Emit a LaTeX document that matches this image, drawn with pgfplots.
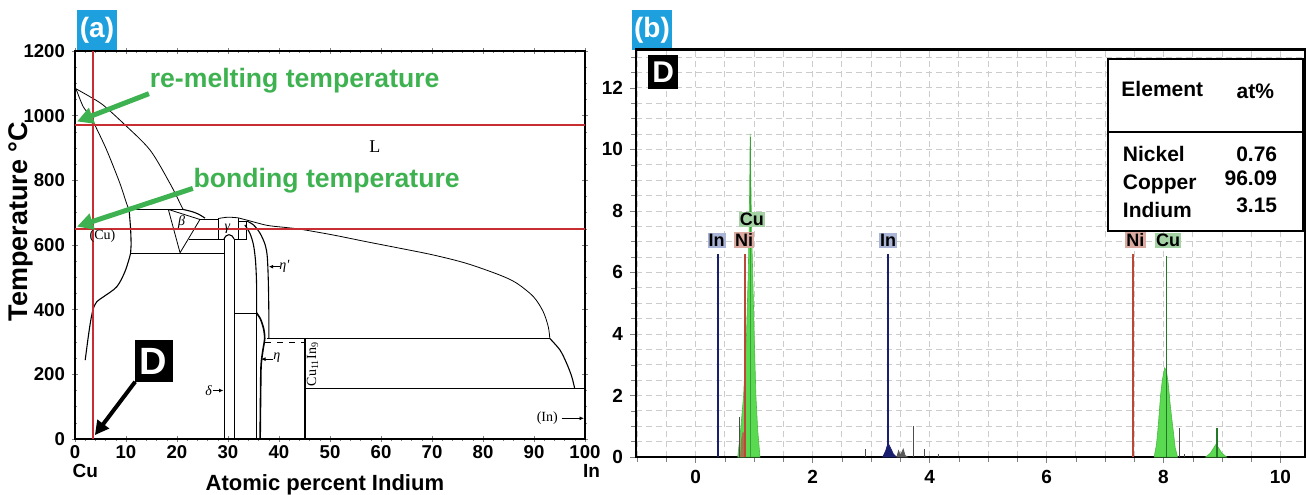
\documentclass[border=0pt]{standalone}
\usepackage{fontspec}
\setmainfont{Liberation Sans}
\newfontfamily\tnr{Liberation Serif}
\usepackage{pgfplots}
\pgfplotsset{compat=1.18}
\usetikzlibrary{arrows.meta}

\definecolor{redline}{RGB}{200,45,50}
\definecolor{grtext}{RGB}{62,178,80}
\definecolor{tagblue}{RGB}{30,160,222}
\definecolor{cufill}{RGB}{90,218,80}
\definecolor{cudark}{RGB}{35,120,40}
\definecolor{innavy}{RGB}{25,30,110}
\definecolor{nired}{RGB}{190,70,55}
\definecolor{nifill}{RGB}{165,115,75}
\definecolor{inbox}{RGB}{170,180,215}
\definecolor{nibox}{RGB}{218,170,160}
\definecolor{cubox}{RGB}{165,210,165}

\tikzset{tag/.style={fill=tagblue, text=white, font=\bfseries\fontsize{14}{14}\selectfont,
  minimum width=20pt, minimum height=20pt, inner sep=0pt},
  dbox/.style={fill=black, text=white, inner sep=0pt, anchor=north west},
  el/.style={font=\bfseries\fontsize{9}{9}\selectfont, inner sep=0.6pt},
  tb/.style={font=\bfseries\fontsize{10.5}{11}\selectfont, inner sep=0pt},
  pd/.style={font=\tnr\fontsize{7}{7}\selectfont, inner sep=0pt},
  pdg/.style={font=\tnr\itshape\fontsize{7}{7}\selectfont, inner sep=0pt},
  sm/.style={-{Latex[length=2.2pt,width=2pt]}, line width=0.4pt}}

\begin{document}
\begin{tikzpicture}
\useasboundingbox (0,0) rectangle (653pt,247pt);
\node[tag] at (48.5pt,232pt) {(a)};
\node[tag] at (326pt,232pt) {(b)};

% ---------- (a) Cu-In phase diagram ----------
\begin{axis}[
  at={(37.5pt,27.5pt)}, anchor=south west,
  scale only axis, width=255pt, height=194pt,
  xmin=0, xmax=100, ymin=0, ymax=1200,
  xtick={0,10,...,100}, ytick={0,200,...,1200},
  minor x tick num=4, minor y tick num=3,
  tick align=center, major tick length=3pt, minor tick length=1.5pt,
  tick label style={font=\bfseries\fontsize{9.3}{10}\selectfont},
  xticklabel style={inner sep=1.5pt},
  /pgf/number format/assume math mode=true,
  /pgf/number format/1000 sep={},
  xlabel={Atomic percent Indium},
  ylabel={Temperature °C},
  xlabel style={font=\bfseries\fontsize{11}{12}\selectfont,
    at={(axis description cs:0.49,-0.118)}, anchor=center},
  ylabel style={font=\bfseries\fontsize{13.5}{15}\selectfont,
    at={(axis description cs:-0.107,0.56)}, anchor=center},
  axis line style={line width=0.6pt},
  clip=false,
  cycle list={{black, solid, line width=0.55pt}},
  no markers,
]
% liquidus, Cu side
\addplot+[smooth] coordinates {(0.2,1083) (2.9,1059) (5.5,1033) (9.5,976) (14.7,894) (18.6,791) (20.6,729) (21.2,710)};
% solidus and (Cu) solvus
\addplot+[smooth] coordinates {(0.2,1083) (1.6,1028) (2.9,1002) (3.9,971) (6.2,894) (8.8,791) (10.1,729) (10.6,710)};
\addplot+[smooth] coordinates {(10.6,710) (10.9,650) (11.0,600) (10.9,574) (9.8,518) (8.2,471) (5.6,440) (4.3,425) (3.6,404) (3.1,368) (2.6,316) (2.0,244)};
% peritectic and eutectoid lines
\addplot+[sharp plot] coordinates {(10.6,710) (21.2,710)};
\addplot+[sharp plot] coordinates {(10.9,574) (29.2,574)};
% beta region
\addplot+[smooth] coordinates {(21.2,710) (23.2,702) (24.5,693) (25.5,683)};
\addplot+[sharp plot] coordinates {(18.3,710) (20.6,576) (24.5,679) (18.3,710)};
\addplot+[sharp plot] coordinates {(24.5,680) (28.1,680)};
\addplot+[sharp plot] coordinates {(22.3,618) (29.2,618)};
% gamma
\addplot+[sharp plot] coordinates {(28.1,618) (28.1,682)};
\addplot+[smooth] coordinates {(28.1,682) (30.0,686) (32.0,684)};
\addplot+[sharp plot] coordinates {(32.0,684) (32.0,618)};
\addplot+[sharp plot] coordinates {(32.0,672) (33.7,672) (33.7,616) (31.2,616)};
% delta
\addplot+[sharp plot] coordinates {(29.2,0) (29.2,618)};
\addplot+[smooth] coordinates {(29.2,618) (29.6,628) (30.2,632) (30.8,628) (31.2,618)};
\addplot+[sharp plot] coordinates {(31.2,618) (31.2,0)};
\addplot+[sharp plot] coordinates {(31.2,390) (35.6,390)};
% eta
\addplot+[smooth] coordinates {(33.3,662) (34.3,636) (35.0,600) (35.4,550) (35.6,480) (35.6,390)};
\addplot+[sharp plot] coordinates {(35.5,390) (35.5,0)};
\addplot+[smooth, line width=0.8pt] coordinates {(35.6,390) (36.4,370) (37.0,340) (37.2,310) (36.9,280) (36.5,230) (36.4,150) (36.3,0)};
% eta' boundary
\addplot+[smooth] coordinates {(33.7,674) (35.0,662) (36.3,636) (37.3,600) (37.7,564) (37.9,492) (38.0,400) (38.0,311)};
\addplot+[sharp plot] coordinates {(37.6,311) (93.1,311)};
\addplot+[sharp plot, dashed] coordinates {(37.3,298) (45.1,298)};
\addplot+[sharp plot] coordinates {(45.1,0) (45.1,311)};
\addplot+[sharp plot] coordinates {(45.1,155) (100,155)};
% liquidus, In side
\addplot+[smooth] coordinates {(32.0,684) (33.7,677) (37.6,661) (40.8,655) (44.1,649) (50.6,631) (57.2,610) (63.7,590) (70.3,569) (76.8,543) (83.3,507) (86.6,482) (89.9,440) (91.8,394) (92.8,347) (93.1,311)};
\addplot+[smooth] coordinates {(93.1,311) (95.1,275) (96.4,234) (97.4,193) (98.0,155)};
% red guide lines
\addplot+[sharp plot, redline, line width=1pt] coordinates {(3.5,0) (3.5,1200)};
\addplot+[sharp plot, redline, line width=1pt] coordinates {(0,970) (100,970)};
\addplot+[sharp plot, redline, line width=1pt] coordinates {(0,650) (100,650)};
% phase labels
\node[font=\tnr\fontsize{9}{9}\selectfont] at (axis cs:58.8,903) {L};
\node[pd] at (axis cs:5.4,626) {(Cu)};
\node[pdg] at (axis cs:20.9,672) {β};
\node[pdg] at (axis cs:29.9,650) {γ};
\node[pdg] at (axis cs:26.2,150) {δ};
\draw[sm] (axis cs:27.0,150) -- (axis cs:29.1,150);
\node[pdg] at (axis cs:39.6,250) {η};
\draw[sm] (axis cs:38.9,247) -- (axis cs:36.5,247);
\node[pdg, anchor=west] at (axis cs:40.0,535) {η'};
\draw[sm] (axis cs:40.1,533) -- (axis cs:38.0,533);
\node[pd, rotate=90] at (axis cs:46.6,232) {Cu\textsubscript{11}In\textsubscript{9}};
\node[pd] at (axis cs:92.6,64) {(In)};
\draw[sm] (axis cs:95.4,64) -- (axis cs:99.8,64);
% annotations
\draw[grtext, line width=2.5pt, -{Triangle[length=8pt,width=8pt]}] (axis cs:14.5,1068) -- (axis cs:0.4,982);
\draw[grtext, line width=2.5pt, -{Triangle[length=8pt,width=8pt]}] (axis cs:23.1,775) -- (axis cs:0.4,657);
\node[grtext, anchor=west, font=\bfseries\fontsize{13.3}{15}\selectfont, inner sep=0pt] at (axis cs:14.6,1108) {re-melting temperature};
\node[grtext, anchor=west, font=\bfseries\fontsize{13.3}{15}\selectfont, inner sep=0pt] at (axis cs:23.2,800) {bonding temperature};
\node[dbox, minimum width=19pt, minimum height=21pt, font=\bfseries\fontsize{19}{19}\selectfont] at (axis cs:11.6,306) {D};
\draw[black, line width=2pt, -{Triangle[length=7pt,width=7pt]}] (axis cs:11.8,177) -- (axis cs:3.9,12);
\node[font=\bfseries\fontsize{9.5}{10}\selectfont, inner sep=0pt] at (axis cs:2.0,0) [yshift=-15.8pt] {Cu};
\node[font=\bfseries\fontsize{9.5}{10}\selectfont, inner sep=0pt] at (axis cs:101.3,0) [yshift=-15.8pt] {In};
\end{axis}

% ---------- (b) EDS spectrum ----------
\begin{axis}[
  at={(318pt,18.5pt)}, anchor=south west,
  scale only axis, width=334.5pt, height=203.8pt,
  xmin=-1.02, xmax=10.42, ymin=0, ymax=13.25,
  xtick={0,2,...,10}, ytick={0,2,...,12},
  minor xtick={-1,-0.5,...,10.5}, minor ytick={0.5,1,...,13},
  grid=both,
  major grid style={densely dashed, gray!40, line width=0.4pt},
  minor grid style={densely dashed, gray!40, line width=0.4pt},
  tick pos=left, tick align=outside, major tick length=3pt, minor tick length=2.5pt,
  tick label style={font=\bfseries\fontsize{9.5}{10}\selectfont},
  /pgf/number format/assume math mode=true,
  axis line style={line width=1.2pt},
  clip=false,
  no markers,
]
\addplot[fill=cufill, draw=cufill!85!black, line width=0.3pt] coordinates {(0.72,0) (0.77,0.9) (0.82,2) (0.87,4) (0.9,6) (0.915,7.5) (0.925,9) (0.932,10.5) (0.94,9.5) (0.955,7.5) (0.975,6) (1.0,4) (1.03,2) (1.06,0.9) (1.10,0)} \closedcycle;
\addplot[fill=nifill, draw=none] coordinates {(0.76,0) (0.78,0.6) (0.80,0.8) (0.83,0.8) (0.85,0.4) (0.86,0)} \closedcycle;
\addplot[fill=cufill, draw=cufill!85!black, line width=0.3pt] coordinates {(7.84,0) (7.88,0.4) (7.91,1) (7.95,2) (7.98,2.5) (8.02,2.9) (8.05,2.8) (8.08,2.4) (8.12,1.6) (8.17,0.8) (8.2,0.3) (8.24,0)} \closedcycle;
\addplot[fill=cufill, draw=cufill!85!black, line width=0.3pt] coordinates {(8.72,0) (8.8,0.12) (8.86,0.3) (8.9,0.42) (8.94,0.3) (9.0,0.12) (9.08,0)} \closedcycle;
\addplot[fill=innavy, draw=innavy] coordinates {(3.2,0) (3.25,0.2) (3.29,0.45) (3.33,0.3) (3.38,0.1) (3.43,0)} \closedcycle;
\addplot[fill=gray!70!black, draw=gray!70!black] coordinates {(3.44,0) (3.47,0.2) (3.5,0.05) (3.55,0.25) (3.58,0.05) (3.62,0)} \closedcycle;
% small spikes
\addplot[ycomb, gray!60!black, line width=0.4pt] coordinates {(0.755,1.3) (2.91,0.27) (3.73,1.02) (3.91,0.25) (4.15,0.1) (8.27,0.93) (8.35,0.1)};
% element marker lines
\addplot[ycomb, innavy, line width=0.8pt] coordinates {(0.377,6.6) (3.29,6.6)};
\addplot[ycomb, nired, line width=0.8pt] coordinates {(0.846,6.6) (7.48,6.6)};
\addplot[ycomb, cudark, line width=0.8pt] coordinates {(8.05,6.55) (8.91,0.95)};
\addplot[ycomb, cudark!60!cufill, line width=0.5pt] coordinates {(0.935,10.4)};
% element tags
\node[el, fill=inbox] at (axis cs:0.36,7.05) {In};
\node[el, fill=nibox] at (axis cs:0.83,7.05) {Ni};
\node[el, fill=cubox] at (axis cs:0.96,7.72) {Cu};
\node[el, fill=inbox] at (axis cs:3.29,7.05) {In};
\node[el, fill=nibox] at (axis cs:7.52,7.05) {Ni};
\node[el, fill=cubox] at (axis cs:8.08,7.05) {Cu};
% composition table
\draw[fill=white, line width=1pt] (axis cs:7.05,12.95) rectangle (axis cs:10.38,7.35);
\draw[line width=1pt] (axis cs:7.05,10.58) -- (axis cs:10.38,10.58);
\node[tb] at (axis cs:7.98,11.95) {Element};
\node[tb] at (axis cs:9.57,11.88) {at\%};
\node[tb, anchor=west] at (axis cs:7.3,9.84) {Nickel};
\node[tb, anchor=west] at (axis cs:7.3,8.87) {Copper};
\node[tb, anchor=west] at (axis cs:7.3,8.02) {Indium};
\node[tb, anchor=east] at (axis cs:9.95,9.84) {0.76};
\node[tb, anchor=east] at (axis cs:9.95,9.06) {96.09};
\node[tb, anchor=east] at (axis cs:9.95,8.19) {3.15};
\node[dbox, minimum width=15pt, minimum height=17pt, font=\bfseries\fontsize{15}{15}\selectfont] at (axis cs:-0.82,13.07) {D};
\end{axis}
\end{tikzpicture}
\end{document}
